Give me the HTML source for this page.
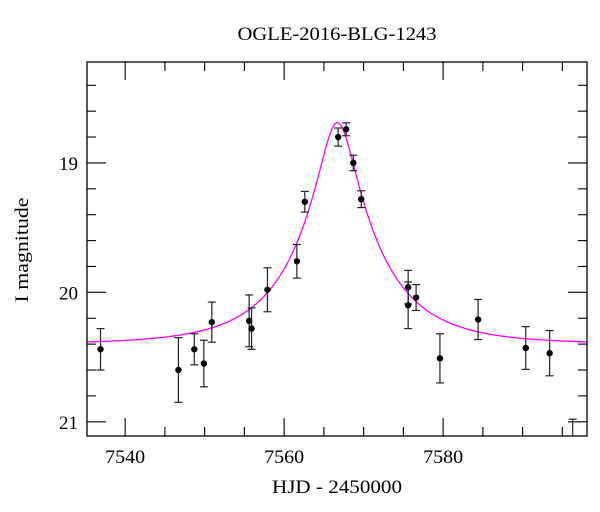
<!DOCTYPE html>
<html><head><meta charset="utf-8">
<style>
html,body{margin:0;padding:0;background:#fff;}
svg{display:block;font-family:"Liberation Serif",serif;}
</style></head>
<body>
<svg id="chart" width="600" height="512" viewBox="0 0 600 512" xmlns="http://www.w3.org/2000/svg">
<text x="337" y="40" text-anchor="middle" font-size="19" textLength="199" lengthAdjust="spacingAndGlyphs">OGLE-2016-BLG-1243</text>
<text x="337" y="493" text-anchor="middle" font-size="19" textLength="130" lengthAdjust="spacingAndGlyphs">HJD - 2450000</text>
<text x="28" y="250" text-anchor="middle" font-size="19" transform="rotate(-90 28 250)" textLength="105" lengthAdjust="spacingAndGlyphs">I magnitude</text>
<defs><clipPath id="plotclip"><rect x="87" y="62" width="500" height="374"/></clipPath></defs>
<g id="ticks"></g>
<g id="curve" clip-path="url(#plotclip)"></g>
<g id="points" clip-path="url(#plotclip)"></g>
<rect x="87" y="62" width="500" height="374" fill="none" stroke="#000" stroke-width="1.3"/>
</svg>
<script>
const days = [7536.9,7546.7,7548.7,7549.9,7550.9,7555.6,7555.9,7557.9,7561.6,7562.6,7566.8,7567.8,7568.7,7569.7,7575.6,7575.6,7576.6,7579.6,7584.4,7590.4,7593.4,7596.3];
const mags = [20.44,20.60,20.44,20.55,20.23,20.22,20.28,19.98,19.76,19.30,18.80,18.74,19.00,19.28,19.96,20.10,20.04,20.51,20.21,20.43,20.47,21.18];
const errs = [0.16,0.25,0.12,0.18,0.155,0.2,0.16,0.17,0.13,0.08,0.07,0.05,0.06,0.065,0.13,0.18,0.1,0.19,0.155,0.165,0.175,0.2];
const xTickLabels = [7540,7560,7580];
const yTickLabels = [19,20,21];
const modelT0 = 7566.7, modelU0 = 0.21, modelTE = 10.3, modelBase = 20.40;

const X0=87,X1=587,Y0=62,Y1=436;
const xMin=7535.2,xMax=7598.1,yMin=18.22,yMax=21.11;
function xs(d){return X0+(d-xMin)/(xMax-xMin)*(X1-X0);}
function ys(m){return Y0+(m-yMin)/(yMax-yMin)*(Y1-Y0);}
const NS="http://www.w3.org/2000/svg";
function mk(tag,attrs,parent){const e=document.createElementNS(NS,tag);for(const k in attrs)e.setAttribute(k,attrs[k]);parent.appendChild(e);return e;}
const svg=document.getElementById('chart');
const tg=document.getElementById('ticks');
for(let d=7540;d<=xMax;d+=5){
  const x=xs(d);const major=(d%20===0);const L=major?18:9;
  let t=mk('line',{x1:x,x2:x,y1:Y1,y2:Y1-L,stroke:'#000','stroke-width':1.1},tg);
  
  
  t=mk('line',{x1:x,x2:x,y1:Y0,y2:Y0+L,stroke:'#000','stroke-width':1.1},tg);
  
  
}
xTickLabels.forEach(v=>{
  const t=mk('text',{x:xs(v),y:Y1+27,'text-anchor':'middle','font-size':19,textLength:40,lengthAdjust:'spacingAndGlyphs'},svg);
  t.textContent=v;
  
  
});
for(let i=0;i*0.2+18.4<=yMax+1e-6;i++){
  const m=18.4+i*0.2;const y=ys(m);const major=Math.abs(m-Math.round(m))<1e-6;const L=major?19:9;
  let t=mk('line',{x1:X0,x2:X0+L,y1:y,y2:y,stroke:'#000','stroke-width':1.1},tg);
  
  
  t=mk('line',{x1:X1,x2:X1-L,y1:y,y2:y,stroke:'#000','stroke-width':1.1},tg);
  
  
}
yTickLabels.forEach(v=>{
  const t=mk('text',{x:X0-9,y:ys(v)+7,'text-anchor':'end','font-size':19},svg);
  t.textContent=v;
  
  
});
function model(t){const tau=(t-modelT0)/modelTE;const u=Math.sqrt(modelU0*modelU0+tau*tau);const A=(u*u+2)/(u*Math.sqrt(u*u+4));return modelBase-2.5*Math.log10(A);}
let dstr='';
for(let i=0;i<=600;i++){const t=xMin+(xMax-xMin)*i/600;dstr+=(i?'L':'M')+xs(t).toFixed(2)+' '+ys(model(t)).toFixed(2);}
const cp=mk('path',{d:dstr,fill:'none',stroke:'#ff00ff','stroke-width':1.3},document.getElementById('curve'));


const pg=document.getElementById('points');
days.forEach((d,i)=>{
  const x=xs(d),y=ys(mags[i]),ya=ys(mags[i]-errs[i]),yb=ys(mags[i]+errs[i]);
  const g=mk('g',{},pg);
  
  
  mk('line',{x1:x,x2:x,y1:ya,y2:yb,stroke:'#222','stroke-width':1.2},g);
  mk('line',{x1:x-4,x2:x+4,y1:ya,y2:ya,stroke:'#222','stroke-width':1.2},g);
  mk('line',{x1:x-4,x2:x+4,y1:yb,y2:yb,stroke:'#222','stroke-width':1.2},g);
  mk('circle',{cx:x,cy:y,r:3.2,fill:'#000'},g);
});
</script>
</body></html>
